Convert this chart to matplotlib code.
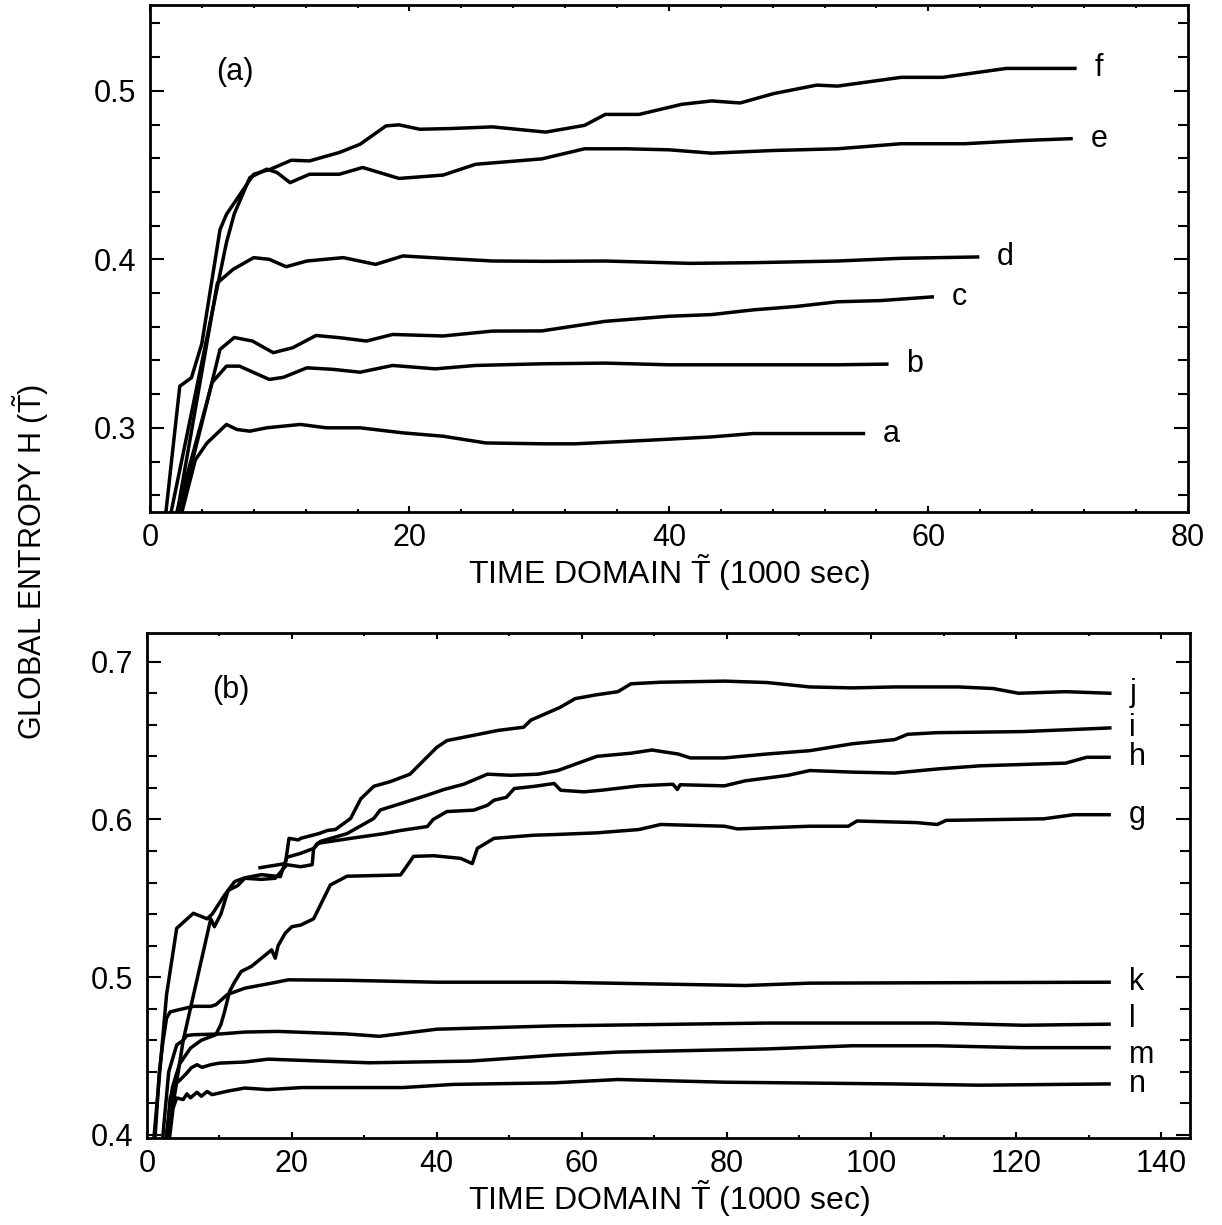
import matplotlib
matplotlib.use('Agg')
import matplotlib.pyplot as plt
from matplotlib.ticker import MultipleLocator

plt.rcParams.update({
    'font.family': 'Liberation Sans', 'mathtext.fontset': 'custom',
    'mathtext.rm': 'Liberation Sans', 'mathtext.it': 'Liberation Sans',
    'axes.linewidth': 2.0,
})

# ---------------------------------------------------------------------------
# panel (a): global entropy vs time domain (1000 sec)
# ---------------------------------------------------------------------------
a_t = [2.3, 3.5, 4.4, 5.9, 6.7, 7.7, 9.0, 11.6, 13.6, 16.2, 19.5, 22.6, 25.9, 30.4, 32.8,
       38.4, 43.3, 46.5, 49.8, 55.0]
a_h = [0.245, 0.281, 0.291, 0.302, 0.299, 0.298, 0.300, 0.302, 0.300, 0.300, 0.297, 0.295,
       0.291, 0.2905, 0.2905, 0.2926, 0.2946, 0.2966, 0.2966, 0.2966]
b_t = [1.9, 3.5, 4.8, 5.9, 6.9, 9.2, 10.3, 12.1, 14.1, 16.2, 18.7, 22.0, 25.1, 30.3, 35.1,
       40.0, 46.5, 53.0, 56.8]
b_h = [0.245, 0.29, 0.327, 0.3366, 0.3366, 0.3287, 0.330, 0.3356, 0.3347, 0.333, 0.337,
       0.335, 0.337, 0.338, 0.3384, 0.3374, 0.3374, 0.3374, 0.3378]
c_t = [2.2, 3.1, 4.4, 5.4, 6.5, 7.9, 9.5, 11.0, 12.8, 14.6, 16.7, 18.7, 22.6, 26.4, 30.2,
       35.1, 40.0, 43.3, 46.5, 49.8, 53.0, 56.3, 60.3]
c_h = [0.245, 0.275, 0.315, 0.3465, 0.3536, 0.3515, 0.3446, 0.3475, 0.3548, 0.3535, 0.3515,
       0.3554, 0.3545, 0.3574, 0.3575, 0.3632, 0.3662, 0.3672, 0.370, 0.372, 0.3748, 0.3755,
       0.3777]
d_t = [2.0, 5.2, 6.4, 8.0, 9.2, 10.5, 12.1, 14.9, 17.4, 19.5, 22.6, 26.4, 30.5, 35.1, 41.6,
       46.5, 53.0, 57.9, 63.8]
d_h = [0.245, 0.386, 0.394, 0.401, 0.400, 0.3956, 0.399, 0.401, 0.397, 0.402, 0.4006, 0.399,
       0.3988, 0.399, 0.3976, 0.398, 0.399, 0.4006, 0.4014]
e_t = [1.5, 5.9, 6.5, 7.7, 9.0, 9.8, 10.8, 12.3, 14.6, 16.4, 19.2, 22.6, 25.1, 30.2, 33.5,
       36.7, 40.0, 43.3, 48.1, 53.0, 57.9, 62.8, 67.6, 71.0]
e_h = [0.245, 0.41, 0.427, 0.4485, 0.4535, 0.4515, 0.4455, 0.4505, 0.4505, 0.4545, 0.448,
       0.450, 0.4564, 0.4596, 0.4656, 0.4656, 0.465, 0.463, 0.4646, 0.4656, 0.4686, 0.4686,
       0.4706, 0.4716]
f_t = [1.16, 2.3, 3.2, 4.0, 5.4, 5.9, 8.0, 9.3, 10.9, 12.3, 14.6, 16.2, 18.2, 19.2, 20.8,
       23.1, 26.4, 30.5, 33.5, 35.1, 37.7, 41.0, 43.3, 45.5, 48.1, 51.4, 53.0, 57.9, 61.1,
       66.0, 71.3]
f_h = [0.245, 0.3247, 0.3297, 0.350, 0.4176, 0.4267, 0.4505, 0.4535, 0.4588, 0.4584, 0.4634,
       0.4683, 0.4792, 0.4798, 0.4772, 0.4776, 0.4786, 0.4755, 0.4795, 0.486, 0.486, 0.492,
       0.494, 0.4928, 0.4984, 0.5034, 0.5028, 0.508, 0.508, 0.5133, 0.5133]

# ---------------------------------------------------------------------------
# panel (b)
# ---------------------------------------------------------------------------
g_t = [2.4, 3.5, 4.5, 6.0, 7.5, 9.5, 10.2, 10.7, 11.4, 12.1, 13.0, 14.4, 15.8, 17.2, 17.7,
       18.1, 19.1, 20.0, 21.2, 23.0, 25.3, 27.6, 35.0, 36.8, 39.6, 43.3, 44.9, 45.6, 47.9,
       53.4, 56.2, 62.1, 67.9, 70.9, 79.7, 81.5, 91.5, 96.8, 98.0, 106.2, 109.1, 110.3,
       123.8, 127.9, 132.8]
g_h = [0.39, 0.43, 0.445, 0.455, 0.46, 0.4635, 0.470, 0.478, 0.491, 0.497, 0.5036, 0.5068,
       0.512, 0.5173, 0.512, 0.520, 0.528, 0.532, 0.533, 0.537, 0.5584, 0.564, 0.5648,
       0.5766, 0.577, 0.5753, 0.572, 0.5817, 0.588, 0.590, 0.5904, 0.5915, 0.5936, 0.5968,
       0.5957, 0.594, 0.5957, 0.5957, 0.599, 0.598, 0.5968, 0.5994, 0.6004, 0.603, 0.603]
h_t = [2.6, 5.0, 8.8, 9.3, 10.2, 11.2, 12.5, 13.5, 15.8, 17.7, 19.3, 21.2, 22.8, 23.0, 23.5,
       28.1, 32.7, 35.0, 38.7, 39.5, 41.4, 45.1, 47.0, 47.9, 49.6, 50.7, 53.5, 56.2, 57.1,
       60.3, 62.7, 67.9, 72.6, 73.2, 73.6, 79.7, 82.6, 88.5, 91.5, 97.4, 103.2, 109.1, 115.0,
       126.8, 129.7, 132.8]
h_h = [0.39, 0.46, 0.537, 0.532, 0.540, 0.555, 0.558, 0.5627, 0.562, 0.5627, 0.5713, 0.570,
       0.5713, 0.5816, 0.5848, 0.588, 0.591, 0.593, 0.5955, 0.600, 0.605, 0.6059, 0.609,
       0.6122, 0.614, 0.6196, 0.621, 0.6228, 0.6185, 0.6175, 0.6185, 0.6213, 0.6223, 0.619,
       0.622, 0.6213, 0.6245, 0.628, 0.631, 0.630, 0.6294, 0.632, 0.634, 0.6357, 0.6394,
       0.6394]
i_t = [0.8, 2.7, 4.1, 6.4, 8.3, 9.0, 10.7, 12.1, 13.5, 15.8, 18.4, 19.3, 21.2, 23.0, 23.9,
       27.6, 31.3, 32.2, 35.0, 38.7, 41.0, 43.7, 47.0, 50.2, 54.0, 56.7, 59.1, 62.1, 66.8,
       69.7, 73.3, 75.0, 79.7, 85.6, 91.5, 97.4, 103.2, 105.0, 109.0, 120.9, 132.9]
i_h = [0.39, 0.489, 0.531, 0.5405, 0.537, 0.540, 0.552, 0.5606, 0.563, 0.565, 0.5637, 0.576,
       0.5785, 0.5816, 0.586, 0.591, 0.6006, 0.606, 0.610, 0.6154, 0.619, 0.6223, 0.6287,
       0.628, 0.6287, 0.631, 0.635, 0.640, 0.642, 0.644, 0.6415, 0.639, 0.639, 0.6415,
       0.6436, 0.648, 0.6506, 0.654, 0.655, 0.6557, 0.658]
j_t = [15.6, 19.1, 19.6, 20.9, 21.2, 23.7, 24.9, 26.0, 28.1, 29.5, 31.3, 33.6, 36.3, 38.1,
       40.0, 41.4, 44.7, 48.4, 52.0, 53.0, 55.0, 57.0, 59.1, 62.0, 65.0, 66.8, 70.9, 79.7,
       85.6, 91.5, 97.4, 103.2, 112.0, 116.8, 120.3, 126.8, 132.9]
j_h = [0.5694, 0.572, 0.588, 0.587, 0.588, 0.591, 0.593, 0.5936, 0.6006, 0.613, 0.621, 0.624,
       0.6287, 0.637, 0.6457, 0.650, 0.653, 0.6564, 0.6585, 0.663, 0.667, 0.671, 0.6766,
       0.679, 0.681, 0.686, 0.687, 0.6877, 0.6868, 0.684, 0.6834, 0.684, 0.684, 0.683, 0.680,
       0.681, 0.680]
k_t = [1.0, 1.7, 2.2, 2.7, 3.2, 4.1, 6.4, 8.8, 9.5, 11.1, 13.5, 17.2, 19.5, 27.5, 40.0, 56.2,
       82.6, 91.5, 132.8]
k_h = [0.39, 0.44, 0.459, 0.474, 0.478, 0.479, 0.4815, 0.4815, 0.4825, 0.489, 0.493, 0.4962,
       0.4983, 0.498, 0.4968, 0.4968, 0.4947, 0.4962, 0.4968]
l_t = [2.0, 3.0, 4.1, 5.0, 5.5, 6.4, 10.2, 13.5, 18.1, 27.5, 32.1, 40.0, 56.2, 85.6, 109.0,
       121.0, 132.8]
l_h = [0.39, 0.44, 0.457, 0.460, 0.463, 0.4635, 0.464, 0.4652, 0.4656, 0.464, 0.4625, 0.467,
       0.4691, 0.4709, 0.4709, 0.4695, 0.4702]
m_t = [2.6, 3.2, 4.1, 4.6, 5.5, 6.1, 6.9, 7.6, 8.8, 10.0, 13.5, 16.7, 30.7, 44.7, 56.2, 65.0,
       85.6, 97.4, 109.0, 121.0, 132.8]
m_h = [0.39, 0.4235, 0.433, 0.435, 0.4392, 0.4425, 0.4445, 0.4428, 0.4445, 0.4455, 0.4462,
       0.448, 0.4457, 0.4468, 0.4505, 0.4525, 0.4545, 0.4565, 0.4565, 0.4553, 0.4553]
n_t = [2.9, 3.6, 4.1, 5.0, 5.5, 6.0, 6.9, 7.5, 8.3, 9.0, 11.1, 13.5, 16.7, 21.4, 35.3, 42.3,
       56.2, 65.0, 79.7, 103.0, 115.0, 132.8]
n_h = [0.39, 0.417, 0.4234, 0.4224, 0.426, 0.4235, 0.427, 0.4245, 0.4275, 0.4255, 0.4277,
       0.4297, 0.4287, 0.430, 0.430, 0.432, 0.433, 0.4351, 0.4334, 0.4323, 0.4315, 0.4323]

CURVES_A = [('a', a_t, a_h), ('b', b_t, b_h), ('c', c_t, c_h), ('d', d_t, d_h),
            ('e', e_t, e_h), ('f', f_t, f_h)]
CURVES_B = [('g', g_t, g_h), ('h', h_t, h_h), ('i', i_t, i_h), ('j', j_t, j_h),
            ('k', k_t, k_h), ('l', l_t, l_h), ('m', m_t, m_h), ('n', n_t, n_h)]
# small vertical nudges (points) so the crowded end labels don't collide
LABEL_NUDGE = {'l': 4, 'm': -5}

XLAB = r'TIME DOMAIN $\tilde{\mathrm{T}}$ (1000 sec)'
YLAB = r'GLOBAL ENTROPY H ($\tilde{\mathrm{T}}$)'

fig = plt.figure(figsize=(12.22, 12.25), dpi=100)
ax1 = fig.add_axes([0.1227, 0.582, 0.8493, 0.414])
ax2 = fig.add_axes([0.1203, 0.071, 0.8537, 0.412])


def style(ax, xmaj, xmin, ymaj, ymin):
    ax.xaxis.set_major_locator(MultipleLocator(xmaj))
    ax.xaxis.set_minor_locator(MultipleLocator(xmin))
    ax.yaxis.set_major_locator(MultipleLocator(ymaj))
    ax.yaxis.set_minor_locator(MultipleLocator(ymin))
    ax.tick_params(which='both', direction='in', top=True, right=True, width=1.5,
                   labelsize=22)
    ax.tick_params(axis='x', which='major', length=4, pad=8)
    ax.tick_params(axis='x', which='minor', length=2)
    ax.tick_params(axis='y', which='major', length=10, pad=10)
    ax.tick_params(axis='y', which='minor', length=7)


def end_labels(ax, curves, dx):
    for lab, t, h in curves:
        ax.plot(t, h, color='black', lw=2.5, solid_joinstyle='round')
        ax.annotate(lab, (t[-1], h[-1]), xytext=(dx, LABEL_NUDGE.get(lab, 0)),
                    textcoords='offset points', fontsize=22, va='center', ha='left')


# panel (a)
end_labels(ax1, CURVES_A, 14)
ax1.set_xlim(0, 80)
ax1.set_ylim(0.25, 0.551)
style(ax1, 20, 4, 0.1, 0.02)
ax1.yaxis.set_major_formatter(lambda v, p: f'{v:.1f}')
ax1.set_xlabel(XLAB, fontsize=23, labelpad=-1)
ax1.text(0.082, 0.868, '(a)', transform=ax1.transAxes, fontsize=22, ha='center', va='center')

# panel (b)
end_labels(ax2, CURVES_B, 14)
ax2.set_xlim(0, 144)
ax2.set_ylim(0.398, 0.718)
style(ax2, 20, 10, 0.1, 0.02)
ax2.set_yticks([0.4, 0.5, 0.6, 0.7])
ax2.yaxis.set_major_formatter(lambda v, p: f'{v:.1f}')
ax2.set_xlabel(XLAB, fontsize=23, labelpad=-1)
ax2.text(0.08, 0.887, '(b)', transform=ax2.transAxes, fontsize=22, ha='center', va='center')

fig.text(0.025, 0.541, YLAB, rotation=90, fontsize=22, ha='center', va='center')

fig.savefig('out.png', dpi=100)
